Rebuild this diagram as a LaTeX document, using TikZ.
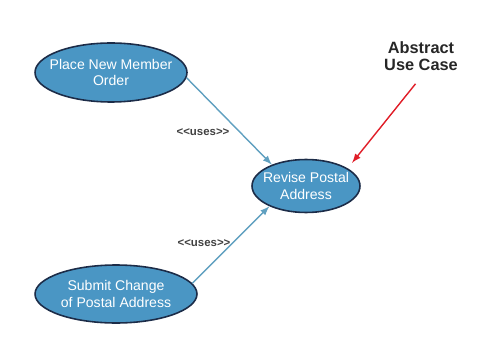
\documentclass[tikz,border=0pt]{standalone}
\usepackage{fontspec}
\setmainfont{Liberation Sans}
\usetikzlibrary{shapes.geometric}
\definecolor{casefill}{RGB}{74,150,196}
\definecolor{caseline}{RGB}{28,44,72}
\definecolor{useline}{RGB}{96,160,192}
\definecolor{notered}{RGB}{224,30,40}

\begin{document}
\begin{tikzpicture}[x=0.02cm,y=-0.02cm,>=latex]
    \tikzstyle{use case}=[ellipse,draw=caseline,line width=0.9pt,fill=casefill,inner sep=0pt]
    \tikzstyle{case text}=[text=white,align=center,font=\fontsize{8}{9.5}\selectfont]
    \tikzstyle{uses}=[->,draw=useline,fill=useline,line width=0.8pt]
    \tikzstyle{stereo}=[text=black!75,font=\fontsize{6.5}{7}\selectfont\bfseries]
    \tikzstyle{note}=[text=black!85,align=center,font=\fontsize{9.3}{10}\selectfont\bfseries]

    \useasboundingbox (0,0) rectangle (503,351);

    % Draw the use cases
    \node[use case,minimum width=3.04cm,minimum height=1.18cm,
          label={[case text]center:Place New Member\\Order}] (place) at (111,72.5) {};
    \node[use case,minimum width=2.16cm,minimum height=1.06cm,
          label={[case text]center:Revise Postal\\Address}] (revise) at (306,186) {};
    \node[use case,minimum width=3.24cm,minimum height=1.16cm,
          label={[case text]center:Submit Change\\of Postal Address}] (submit) at (116,294) {};

    % Connect the concrete cases with the abstract one
    \draw[uses] (place.-4) -- (revise.148);
    \draw[uses] (submit.8) -- (revise.-151);

    % Stereotypes on the connectors
    \node[stereo] (uses1) at (203,132) {<\kern0pt<uses>\kern0pt>};
    \node[stereo] (uses2) at (204,243) {<\kern0pt<uses>\kern0pt>};

    % Annotate the abstract use case
    \node[note] (abstract) at (421,56) {Abstract\\Use Case};
    \draw[->,draw=notered,fill=notered,line width=0.8pt,shorten <=5pt,shorten >=4pt]
        (abstract.south) -- (revise.23);
\end{tikzpicture}
\end{document}
